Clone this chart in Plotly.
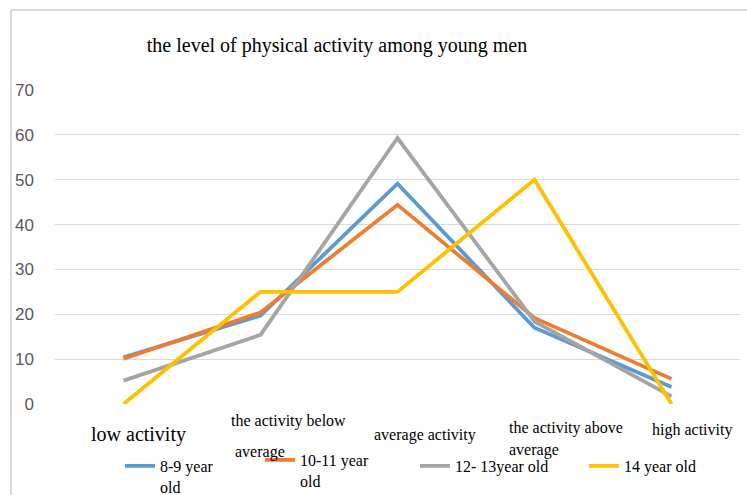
import plotly.graph_objects as go

categories = ["low activity", "the activity below average", "average activity",
              "the activity above average", "high activity"]
series_names = ["8-9 year<br>old", "10-11 year<br>old", "12- 13year old", "14 year old"]
vals_8_9 = [10.4, 19.7, 49.1, 17.0, 3.8]
vals_10_11 = [10.1, 20.4, 44.4, 19.2, 5.6]
vals_12_13 = [5.2, 15.4, 59.3, 18.4, 1.7]
vals_14 = [0, 25, 25, 50, 0]
colors = ["#5b9bd5", "#ed7d31", "#a5a5a5", "#ffc000"]
y_ticks = [0, 10, 20, 30, 40, 50, 60, 70]

W, H = 747, 495
L, R, T, B = 55, 7, 90, 91
pw, ph = W - L - R, H - T - B

def px(x):
    return (x - L) / pw

def py(y):
    return 1 - (y - T) / ph

fig = go.Figure()
all_vals = [vals_8_9, vals_10_11, vals_12_13, vals_14]
legend_ids = ["legend2", "legend3", "legend4", "legend5"]
for name, v, c, lg in zip(series_names, all_vals, colors, legend_ids):
    fig.add_trace(go.Scatter(x=list(range(len(categories))), y=v, name=name,
                             mode="lines", line=dict(color=c, width=3.8),
                             legend=lg))

serif = "Liberation Serif, Times New Roman, serif"
leg_common = dict(orientation="h", bgcolor="rgba(0,0,0,0)",
                  font=dict(family=serif, size=16, color="#000"),
                  xanchor="left", yanchor="top", itemwidth=30, valign="top")
leg_pos = [(120, 449), (260, 443), (415, 449), (584, 449)]
layout_leg = {}
for lg, (lx, ly) in zip(legend_ids, leg_pos):
    d = dict(leg_common)
    d.update(x=px(lx), y=py(ly))
    layout_leg[lg] = d

# category labels as annotations (positions mimic reference)
label_specs = [
    (0, "low activity", 138, 434, 20),
    (1, "the activity below", 288, 421, 16),
    (1, "average", 260, 452, 16),
    (2, "average activity", 425, 435, 16),
    (3, "the activity above", 566, 428, 16),
    (3, "average", 534, 450, 16),
    (4, "high activity", 692, 430, 16),
]
annotations = []
for idx, txt, x, y, s in label_specs:
    annotations.append(dict(x=px(x), y=py(y), xref="paper", yref="paper", text=txt,
                            showarrow=False, xanchor="center", yanchor="middle",
                            font=dict(family=serif, size=s, color="#000")))

fig.update_layout(
    width=W, height=H,
    margin=dict(l=L, r=R, t=T, b=B, autoexpand=False),
    paper_bgcolor="white", plot_bgcolor="white",
    showlegend=True,
    title=dict(text="the level of physical activity among young men",
               xref="container", x=337 / W, xanchor="center",
               yref="container", y=1 - 45 / H, yanchor="middle",
               font=dict(family=serif, size=20, color="#000")),
    xaxis=dict(range=[-0.5, 4.5], showticklabels=False, showgrid=False,
               zeroline=False, showline=False, ticks=""),
    yaxis=dict(range=[0, 70], tickvals=y_ticks, showgrid=True, gridcolor="#d9d9d9",
               gridwidth=1, zeroline=False, showline=False,
               tickfont=dict(family="Liberation Sans, Arial, sans-serif", size=17, color="#595959"),
               ticklabelstandoff=20),
    annotations=annotations,
    shapes=[
        dict(type="line", xref="paper", yref="paper", x0=px(11), x1=px(11), y0=py(10), y1=py(500),
             line=dict(color="#d9d9d9", width=2)),
        dict(type="line", xref="paper", yref="paper", x0=px(11), x1=px(760), y0=py(10), y1=py(10),
             line=dict(color="#d9d9d9", width=2)),
    ],
    **layout_leg,
)
fig.write_html("out.html", config={"displayModeBar": False},
               post_script="document.body.style.margin='0';")
